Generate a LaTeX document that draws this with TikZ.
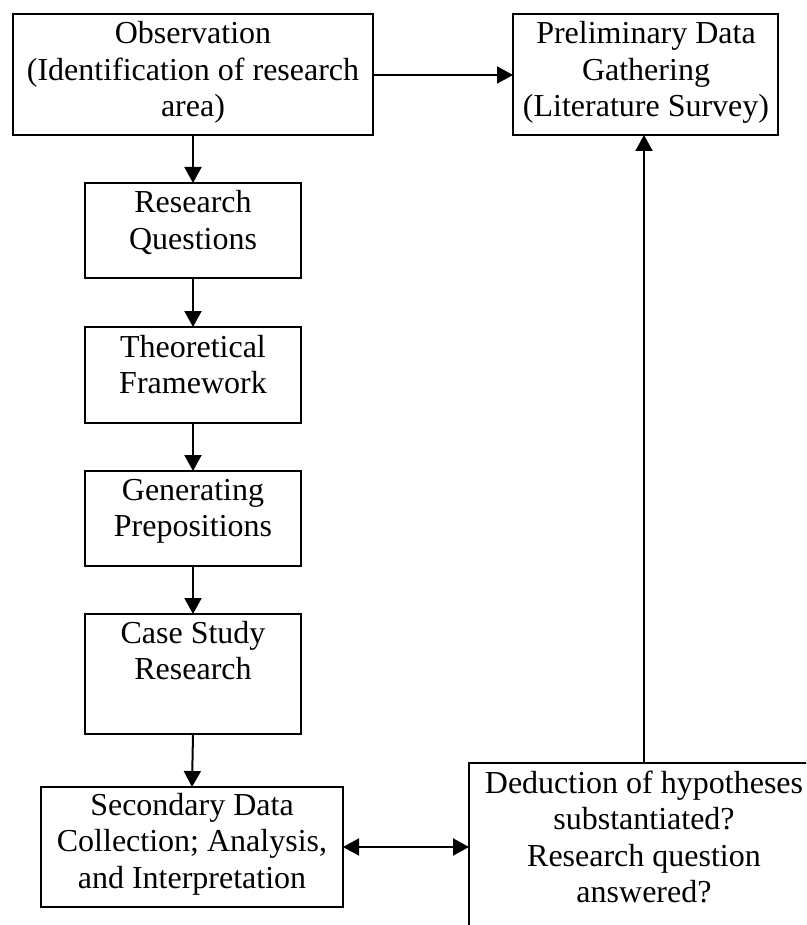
\documentclass[tikz,border=0pt]{standalone}
\usepackage{fontspec}
\setmainfont{Liberation Serif}
\usetikzlibrary{arrows.meta}

\tikzset{
  box/.style={draw, line width=2pt, rectangle, inner sep=0pt, outer sep=0pt},
  boxtext/.style={anchor=base, align=center, inner sep=0pt,
    font=\fontsize{32}{36.5}\selectfont},
  tip/.tip={Triangle[length=16pt,width=17pt]},
  flow/.style={line width=2pt, -tip},
  twoway/.style={line width=2pt, tip-tip}
}

\begin{document}
\begin{tikzpicture}[x=1pt, y=-1pt]
  \useasboundingbox (0,0) rectangle (806,925);
  \clip (0,0) rectangle (806,925);

  % boxes (centre, width, height)
  \node[box, minimum width=360pt, minimum height=121pt] (obs)  at (193,74.5) {};
  \node[box, minimum width=265pt, minimum height=121pt] (pre)  at (645.5,74.5) {};
  \node[box, minimum width=216pt, minimum height=95pt]  (rq)   at (193,230.5) {};
  \node[box, minimum width=216pt, minimum height=96pt]  (theo) at (193,375) {};
  \node[box, minimum width=216pt, minimum height=95pt]  (gen)  at (193,518.5) {};
  \node[box, minimum width=216pt, minimum height=120pt] (case) at (193,674) {};
  \node[box, minimum width=302pt, minimum height=120pt] (sec)  at (192,847) {};
  \node[box, minimum width=350pt, minimum height=197pt] (ded)  at (644,861.5) {};

  % box texts, placed by the baseline of their last line
  \node[boxtext] (obsT)  at (193,117)   {Observation\\(Identification of research\\area)};
  \node[boxtext] (preT)  at (646,117)   {Preliminary Data\\Gathering\\(Literature Survey)};
  \node[boxtext] (rqT)   at (193,249.5) {Research\\Questions};
  \node[boxtext] (theoT) at (193,393.5) {Theoretical\\Framework};
  \node[boxtext] (genT)  at (193,536.5) {Generating\\Prepositions};
  \node[boxtext] (caseT) at (193,679.5) {Case Study\\Research};
  \node[boxtext] (secT)  at (192,888)   {Secondary Data\\Collection; Analysis,\\and Interpretation};
  \node[boxtext] (dedT)  at (644,902.5) {Deduction of hypotheses\\substantiated?\\Research question\\answered?};

  % connectors
  \draw[flow] (obs.south) -- (rq.north);
  \draw[flow] (rq.south) -- (theo.north);
  \draw[flow] (theo.south) -- (gen.north);
  \draw[flow] (gen.south) -- (case.north);
  \draw[flow] (case.south) -- (sec.north);
  \draw[flow] (obs.east |- 0,75) -- (pre.west |- 0,75);
  \draw[flow] (ded.north) -- (ded.north |- pre.south);
  \draw[twoway] (sec.east) -- (sec.east -| ded.west);
\end{tikzpicture}
\end{document}
